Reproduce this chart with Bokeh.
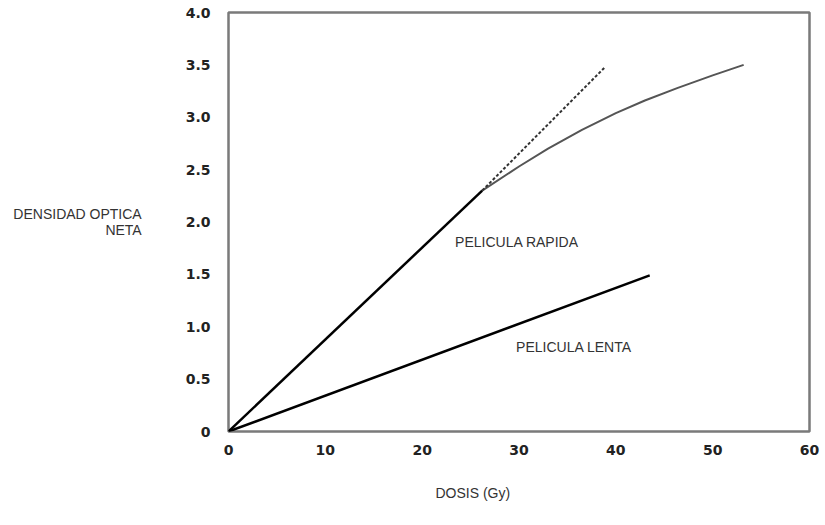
from bokeh.plotting import figure
from bokeh.models import Label, FixedTicker, Range1d, Title
from bokeh.embed import file_html
from bokeh.resources import INLINE

# Fast film: linear response, then saturation curve and extrapolated linear trend
rapida_lineal_x = [0.0, 26.2]
rapida_lineal_y = [0.0, 2.30]
rapida_curva_x = [26.2, 30.0, 33.0, 36.5, 40.0, 43.0, 46.4, 50.0, 53.2]
rapida_curva_y = [2.30, 2.53, 2.70, 2.88, 3.04, 3.16, 3.28, 3.40, 3.50]
rapida_extrap_x = [26.2, 38.9]
rapida_extrap_y = [2.30, 3.48]

# Slow film: linear response
lenta_x = [0.0, 43.5]
lenta_y = [0.0, 1.49]

x_ticks = [0, 10, 20, 30, 40, 50, 60]
y_ticks = [0, 0.5, 1.0, 1.5, 2.0, 2.5, 3.0, 3.5, 4.0]
y_tick_labels = ["0", "0.5", "1.0", "1.5", "2.0", "2.5", "3.0", "3.5", "4.0"]

p = figure(width=825, height=525, output_backend="svg", toolbar_location=None,
           x_range=Range1d(0, 60), y_range=Range1d(0, 4),
           min_border_left=228, min_border_right=16, min_border_top=12,
           min_border_bottom=93)

p.background_fill_color = "white"
p.border_fill_color = "white"
p.outline_line_color = "#7a7a7a"
p.outline_line_width = 2.5
p.grid.visible = False

for ax in (p.xaxis[0], p.yaxis[0]):
    ax.axis_line_color = None
    ax.major_tick_line_color = None
    ax.minor_tick_line_color = None
    ax.major_label_text_font = "DejaVu Sans"
    ax.major_label_text_font_style = "bold"
    ax.major_label_text_font_size = "14px"
    ax.major_label_text_color = "#222222"

p.xaxis.ticker = FixedTicker(ticks=x_ticks)
p.yaxis.ticker = FixedTicker(ticks=y_ticks)
p.yaxis.major_label_overrides = {t: s for t, s in zip(y_ticks, y_tick_labels)}
p.xaxis.major_label_standoff = 7
p.yaxis.major_label_standoff = 12

p.line(lenta_x, lenta_y, line_color="black", line_width=2.5)
p.line(rapida_lineal_x, rapida_lineal_y, line_color="black", line_width=2.5)
p.line(rapida_curva_x, rapida_curva_y, line_color="#555555", line_width=2)
p.line(rapida_extrap_x, rapida_extrap_y, line_color="#333333", line_width=2,
       line_dash="3 2")

font = "Liberation Sans"
size = "14px"
color = "#333333"
txt = dict(text_font=font, text_font_size=size, text_color=color)
p.add_layout(Label(x=23.4, y=1.81, text="PELICULA RAPIDA", text_baseline="middle", **txt))
p.add_layout(Label(x=29.7, y=0.81, text="PELICULA LENTA", text_baseline="middle", **txt))

# Y axis title, horizontal, on two lines
p.yaxis.axis_label = "DENSIDAD OPTICA\nNETA"
p.yaxis.axis_label_orientation = "horizontal"
p.yaxis.axis_label_text_font = font
p.yaxis.axis_label_text_font_size = size
p.yaxis.axis_label_text_font_style = "normal"
p.yaxis.axis_label_text_color = color
p.yaxis.axis_label_text_align = "left"
p.yaxis.axis_label_text_baseline = "bottom"
p.yaxis.axis_label_text_line_height = 0.95
p.yaxis.axis_label_standoff = 41

# X axis title, below the tick labels
p.add_layout(Title(text="DOSIS (Gy)", align="left", offset=207, standoff=50,
                   text_font=font, text_font_size=size,
                   text_font_style="normal", text_color=color), "below")

open("out.html", "w").write(file_html(p, INLINE))
